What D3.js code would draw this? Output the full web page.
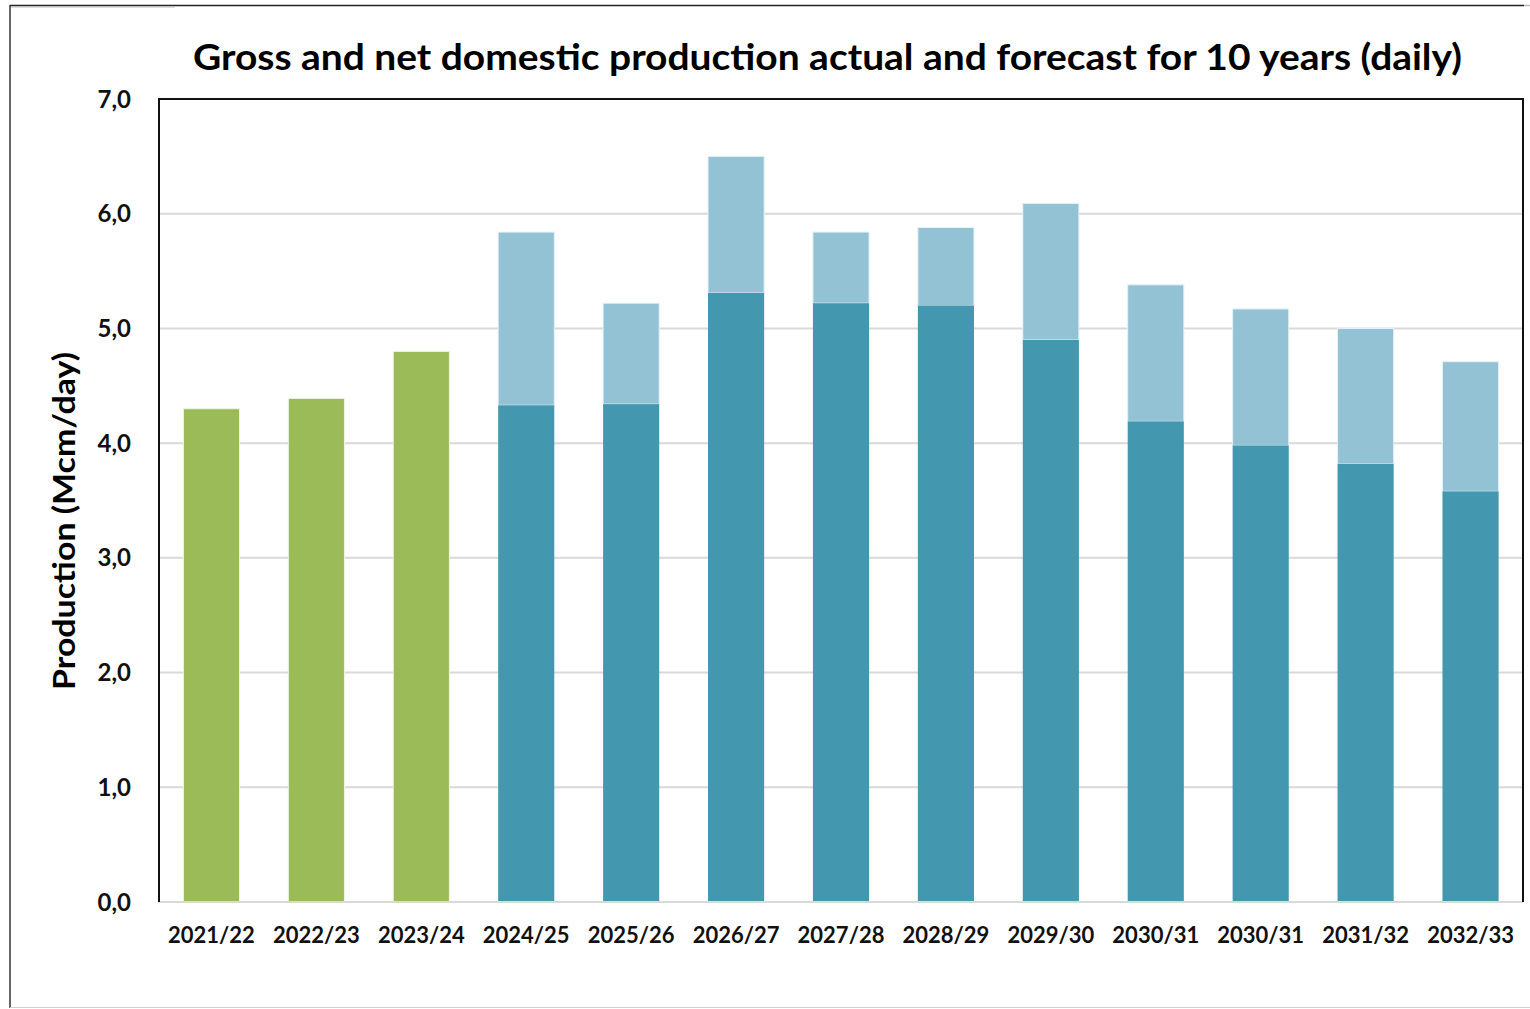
<!DOCTYPE html>
<html><head><meta charset="utf-8">
<script src="https://cdn.jsdelivr.net/npm/d3@7"></script>
<style>html,body{margin:0;padding:0;background:#fff;}</style>
</head><body>
<svg id="c" width="1530" height="1009"></svg>
<script>
const categories = ["2021/22","2022/23","2023/24","2024/25","2025/26","2026/27","2027/28","2028/29","2029/30","2030/31","2030/31 ","2031/32","2032/33"];
const actual = [4.30, 4.39, 4.80, null, null, null, null, null, null, null, null, null, null];
const net    = [null, null, null, 4.33, 4.34, 5.31, 5.22, 5.20, 4.90, 4.19, 3.98, 3.82, 3.58];
const gross  = [null, null, null, 5.84, 5.22, 6.50, 5.84, 5.88, 6.09, 5.38, 5.17, 5.00, 4.71];
const yTicks = [0,1,2,3,4,5,6,7];
const title = "Gross and net domestic production actual and forecast for 10 years (daily)";
const yLabel = "Production (Mcm/day)";

const svg = d3.select("#c");
const L = 159, R = 1523, T = 99, B = 902;
const x = d3.scaleBand().domain(categories).range([L, R]).paddingInner(0.465).paddingOuter(0.2325);
const y = d3.scaleLinear().domain([0, 7]).range([B, T]);

// outer frame
svg.append("line").attr("x1",10).attr("x2",1524).attr("y1",5.5).attr("y2",5.5).attr("stroke","#222").attr("stroke-width",1.5);
svg.append("line").attr("x1",1524).attr("x2",1530).attr("y1",5.5).attr("y2",5.5).attr("stroke","#bbb").attr("stroke-width",1.5);
svg.append("line").attr("x1",10).attr("x2",175).attr("y1",7).attr("y2",7).attr("stroke","#bbb").attr("stroke-width",1);
svg.append("line").attr("x1",10).attr("x2",10).attr("y1",5).attr("y2",1008).attr("stroke","#333").attr("stroke-width",1.5);
svg.append("line").attr("x1",10).attr("x2",1530).attr("y1",1007.5).attr("y2",1007.5).attr("stroke","#d0d0d0").attr("stroke-width",1);

// gridlines
svg.append("g").selectAll("line").data(yTicks.filter(d=>d>0 && d<7)).join("line")
  .attr("x1",L).attr("x2",R).attr("y1",d=>y(d)).attr("y2",d=>y(d))
  .attr("stroke","#d9d9d9").attr("stroke-width",2);

const bw = x.bandwidth();
// actual bars
svg.append("g").selectAll("rect").data(categories.map((c,i)=>({c,v:actual[i]})).filter(d=>d.v!=null)).join("rect")
  .attr("x",d=>x(d.c)).attr("width",bw).attr("y",d=>y(d.v)).attr("height",d=>B-y(d.v))
  .attr("fill","#9bbb59").attr("stroke","#eef5e4").attr("stroke-width",1);
// gross - net (upper)
svg.append("g").selectAll("rect").data(categories.map((c,i)=>({c,n:net[i],g:gross[i]})).filter(d=>d.n!=null)).join("rect")
  .attr("x",d=>x(d.c)).attr("width",bw).attr("y",d=>y(d.g)).attr("height",d=>y(d.n)-y(d.g))
  .attr("fill","#93c2d4").attr("stroke","#e6f1f5").attr("stroke-width",1);
// net
svg.append("g").selectAll("rect").data(categories.map((c,i)=>({c,n:net[i]})).filter(d=>d.n!=null)).join("rect")
  .attr("x",d=>x(d.c)).attr("width",bw).attr("y",d=>y(d.n)).attr("height",d=>B-y(d.n))
  .attr("fill","#4398b0");

// plot frame
svg.append("line").attr("x1",L).attr("x2",R).attr("y1",B).attr("y2",B).attr("stroke","#d9d9d9").attr("stroke-width",2);
svg.append("path").attr("d",`M${L},${B}V${T}H${R}V${B}`).attr("fill","none").attr("stroke","#111").attr("stroke-width",2);

// y axis labels
svg.append("g").selectAll("text").data(yTicks).join("text")
  .attr("x",131).attr("y",d=>y(d)).attr("dy","0.36em").attr("text-anchor","end")
  .attr("font-family","Lato, 'Open Sans', sans-serif").attr("font-weight","bold").attr("font-size",24).attr("fill","#111")
  .text(d=>d3.format(".1f")(d).replace(".",","));

// x axis labels
svg.append("g").selectAll("text").data(categories).join("text")
  .attr("x",d=>x(d)+bw/2).attr("y",943).attr("text-anchor","middle")
  .attr("font-family","Lato, 'Open Sans', sans-serif").attr("font-weight","bold").attr("font-size",22).attr("fill","#111")
  .text(d=>d.trim());

// title
svg.append("text").attr("x",827.5).attr("y",70).attr("text-anchor","middle")
  .attr("font-family","Lato, 'Open Sans', sans-serif").attr("font-weight","bold").attr("font-size",37).attr("fill","#000")
  .attr("textLength",1269).attr("lengthAdjust","spacingAndGlyphs")
  .text(title);

// y title
svg.append("text").attr("transform","translate(75,521) rotate(-90)").attr("text-anchor","middle")
  .attr("font-family","Lato, 'Open Sans', sans-serif").attr("font-weight","bold").attr("font-size",31).attr("fill","#000")
  .attr("textLength",338).attr("lengthAdjust","spacingAndGlyphs")
  .text(yLabel);
</script>
</body></html>
